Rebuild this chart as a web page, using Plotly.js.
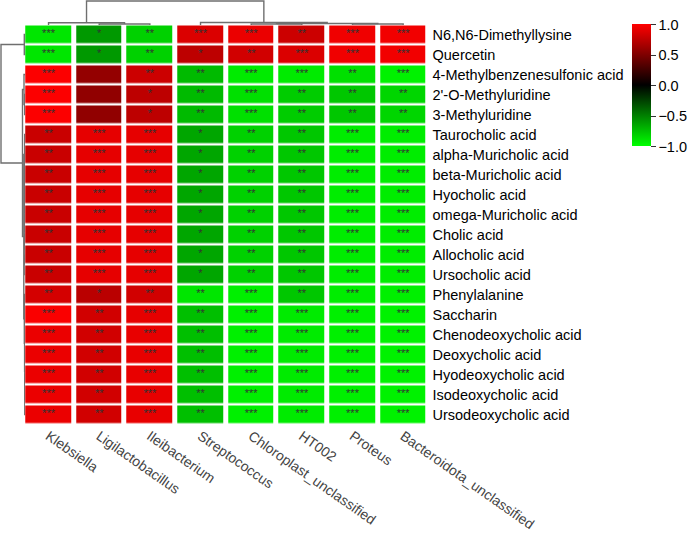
<!DOCTYPE html>
<html><head><meta charset="utf-8">
<script src="https://cdn.plot.ly/plotly-3.0.1.min.js"></script>
<style>html,body{margin:0;padding:0;background:#fff}#chart{width:688px;height:533px}</style>
</head><body><div id="chart"></div>
<script>
const columns = ['Klebsiella','Ligilactobacillus','Ileibacterium','Streptococcus','Chloroplast_unclassified','HT002','Proteus','Bacteroidota_unclassified'];
const rows = ['N6,N6-Dimethyllysine','Quercetin','4-Methylbenzenesulfonic acid',"2'-O-Methyluridine",'3-Methyluridine','Taurocholic acid','alpha-Muricholic acid','beta-Muricholic acid','Hyocholic acid','omega-Muricholic acid','Cholic acid','Allocholic acid','Ursocholic acid','Phenylalanine','Saccharin','Chenodeoxycholic acid','Deoxycholic acid','Hyodeoxycholic acid','Isodeoxycholic acid','Ursodeoxycholic acid'];

// correlation values, one array per column, in row order
const klebsiella    = [-0.90,-0.90, 0.99, 0.99, 0.99, 0.79, 0.79, 0.79, 0.79, 0.79, 0.79, 0.79, 0.79, 0.83, 0.98, 0.92, 0.92, 0.92, 0.92, 0.92];
const ligilacto     = [-0.60,-0.60, 0.58, 0.57, 0.57, 0.90, 0.90, 0.90, 0.90, 0.90, 0.90, 0.90, 0.90, 0.73, 0.82, 0.82, 0.82, 0.82, 0.82, 0.82];
const ileibacterium = [-0.82,-0.82, 0.80, 0.74, 0.74, 0.90, 0.90, 0.90, 0.90, 0.90, 0.90, 0.90, 0.90, 0.82, 0.90, 0.91, 0.91, 0.91, 0.91, 0.91];
const streptococcus = [ 0.86, 0.74,-0.73,-0.73,-0.73,-0.65,-0.65,-0.65,-0.65,-0.65,-0.65,-0.65,-0.65,-0.90,-0.75,-0.75,-0.75,-0.75,-0.75,-0.75];
const chloroplast   = [ 0.92, 0.82,-0.92,-0.88,-0.88,-0.82,-0.82,-0.82,-0.82,-0.82,-0.82,-0.82,-0.82,-0.94,-0.94,-0.94,-0.94,-0.94,-0.94,-0.94];
const ht002         = [ 0.80, 0.86,-0.92,-0.80,-0.80,-0.78,-0.78,-0.78,-0.78,-0.78,-0.78,-0.78,-0.78,-0.78,-0.92,-0.92,-0.92,-0.92,-0.92,-0.92];
const proteus       = [ 0.94, 0.94,-0.88,-0.78,-0.78,-0.93,-0.93,-0.93,-0.93,-0.93,-0.93,-0.93,-0.93,-0.93,-0.94,-0.94,-0.94,-0.94,-0.94,-0.94];
const bacteroidota  = [ 0.95, 0.95,-0.95,-0.84,-0.84,-0.93,-0.93,-0.93,-0.93,-0.93,-0.93,-0.93,-0.93,-0.94,-0.95,-0.95,-0.95,-0.95,-0.95,-0.95];

// significance marks, one array per column, in row order
const sigKlebsiella    = ['***','***','***','***','***','**','**','**','**','**','**','**','**','**','***','***','***','***','***','***'];
const sigLigilacto     = ['*','*','','','','***','***','***','***','***','***','***','***','*','**','**','**','**','**','**'];
const sigIleibacterium = ['**','**','**','*','*','***','***','***','***','***','***','***','***','**','***','***','***','***','***','***'];
const sigStreptococcus = ['***','*','**','**','**','*','*','*','*','*','*','*','*','**','**','**','**','**','**','**'];
const sigChloroplast   = ['***','**','***','***','***','**','**','**','**','**','**','**','**','***','***','***','***','***','***','***'];
const sigHT002         = ['**','***','***','**','**','**','**','**','**','**','**','**','**','**','***','***','***','***','***','***'];
const sigProteus       = ['***','***','**','**','**','***','***','***','***','***','***','***','***','***','***','***','***','***','***','***'];
const sigBacteroidota  = ['***','***','***','**','**','***','***','***','***','***','***','***','***','***','***','***','***','***','***','***'];

// hclust-style merges (negative = leaf in display order, positive = earlier merge) and heights
const colMerge  = [[-2,-3],[-1,1],[-5,-6],[-7,-8],[3,4],[-4,5],[2,6]];
const colHeight = [1.0, 2.3, 1.0, 1.0, 1.5, 2.5, 24];
const rowMerge  = [[-1,-2],[-4,-5],[-3,2],
                   [-12,-13],[-11,4],[-10,5],[-9,6],[-8,7],[-7,8],[-6,9],
                   [-16,-17],[-18,-19],[12,-20],[11,13],[-15,14],[-14,15],
                   [10,16],[3,17],[1,18]];
const rowHeight = [0.7, 0.3, 1.0,
                   0.15, 0.17, 0.19, 0.21, 0.23, 0.25, 0.3,
                   0.2, 0.2, 0.25, 0.3, 0.4, 0.6,
                   1.2, 2.5, 24];

const colSeries = [klebsiella, ligilacto, ileibacterium, streptococcus, chloroplast, ht002, proteus, bacteroidota];
const sigSeries = [sigKlebsiella, sigLigilacto, sigIleibacterium, sigStreptococcus, sigChloroplast, sigHT002, sigProteus, sigBacteroidota];

const nR = rows.length, nC = columns.length;
const z = rows.map((_, r) => colSeries.map(s => s[r]));
const xIdx = columns.map((_, i) => i), yIdx = rows.map((_, i) => i);

const tx = [], ty = [], tt = [];
for (let r = 0; r < nR; r++) for (let c = 0; c < nC; c++) { tx.push(c); ty.push(r); tt.push(sigSeries[c][r]); }

function dendro(merge, heights) {
  const pos = [], P = [], H = [];
  const get = k => k < 0 ? [-k - 1, 0] : [pos[k - 1], heights[k - 1]];
  merge.forEach((m, i) => {
    const [pa, ha] = get(m[0]), [pb, hb] = get(m[1]), h = heights[i];
    pos.push((pa + pb) / 2);
    P.push(pa, pa, pb, pb, null); H.push(ha, h, h, hb, null);
  });
  return {P, H};
}
const cd = dendro(colMerge, colHeight), rd = dendro(rowMerge, rowHeight);

const font = 'Liberation Sans, Arial, sans-serif';
const W = 688, Hh = 533;
const lineStyle = {color: '#6f6f6f', width: 1.4};

const data = [
  {type: 'heatmap', x: xIdx, y: yIdx, z: z, zmin: -1, zmax: 1, xgap: 5, ygap: 2.4,
   colorscale: [[0, '#00ff00'], [0.5, '#000000'], [1, '#ff0000']], hoverinfo: 'skip',
   colorbar: {x: 631.7 / W, xanchor: 'left', y: 1 - 85.5 / Hh, yanchor: 'middle', len: 122 / Hh, lenmode: 'fraction',
     thickness: 19, thicknessmode: 'pixels', outlinewidth: 0, xpad: 0, ypad: 0,
     ticks: 'outside', ticklen: 5, tickwidth: 1, tickcolor: '#333',
     tickvals: [-1, -0.5, 0, 0.5, 1], tickformat: '.1f',
     tickfont: {family: font, size: 14.5, color: '#000'}}},
  {type: 'scatter', mode: 'text', x: tx, y: ty, text: tt, hoverinfo: 'skip',
   textfont: {family: font, size: 11, color: '#333333'}, textposition: 'middle center'},
  {type: 'scatter', mode: 'lines', x: cd.P, y: cd.H, xaxis: 'x', yaxis: 'y2', line: lineStyle, hoverinfo: 'skip', connectgaps: false},
  {type: 'scatter', mode: 'lines', x: rd.H, y: rd.P, xaxis: 'x2', yaxis: 'y', line: lineStyle, hoverinfo: 'skip', connectgaps: false}
];

const layout = {
  width: W, height: Hh, margin: {l: 0, r: 0, t: 0, b: 0}, showlegend: false,
  paper_bgcolor: '#fff', plot_bgcolor: 'rgba(0,0,0,0)',
  xaxis: {domain: [23.2 / W, 428.5 / W], range: [-0.5, nC - 0.5], anchor: 'y',
    tickvals: xIdx, ticktext: columns, tickangle: 35, ticks: '', showgrid: false, zeroline: false, showline: false,
    tickfont: {family: font, size: 14, color: '#444'}},
  yaxis: {domain: [1 - 424.5 / Hh, 1 - 24.5 / Hh], range: [nR - 0.5, -0.5], anchor: 'x', side: 'right',
    tickvals: yIdx, ticktext: rows, ticks: '', ticklabelstandoff: 3, showgrid: false, zeroline: false, showline: false,
    tickfont: {family: font, size: 14.5, color: '#000'}},
  xaxis2: {domain: [0, 25 / W], range: [25, 0], anchor: 'y', visible: false, fixedrange: true},
  yaxis2: {domain: [1 - 25 / Hh, 1], range: [0, 25], anchor: 'x', visible: false, fixedrange: true}
};

Plotly.newPlot('chart', data, layout, {displayModeBar: false, staticPlot: true});
</script>
</body></html>
